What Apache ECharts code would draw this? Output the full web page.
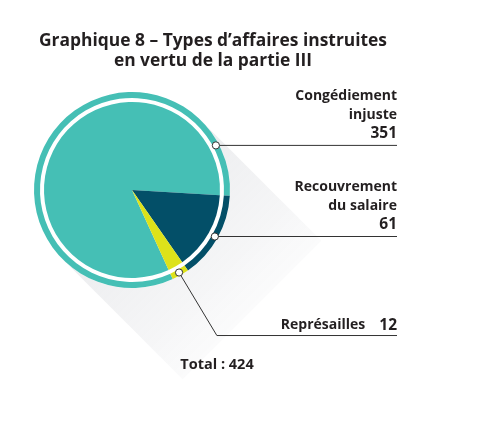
<!DOCTYPE html>
<html><head><meta charset="utf-8">
<script src="https://cdn.jsdelivr.net/npm/echarts@6/dist/echarts.min.js"></script>
<style>html,body{margin:0;padding:0;background:#fff}#c{width:477px;height:427px}</style>
</head><body><div id="c"></div>
<script>
const categories = ['Congédiement injuste', 'Recouvrement du salaire', 'Représailles'];
const labelLines = [['Congédiement', 'injuste'], ['Recouvrement', 'du salaire'], ['Représailles']];
const values = [351, 61, 12];
const colors = ['#45bfb5', '#034f68', '#dde21a'];

const CX = 132, CY = 190;
const R_IN = 88, R_RING0 = 92, R_RING1 = 98, R_DOT = 95;
const START = -65.4;
const TEXT_RIGHT = 397;
const FONT = 'Open Sans';

const total = values.reduce((a, b) => a + b, 0);
let acc = 0;
const midAngles = values.map(v => {
  const a0 = START - acc / total * 360;
  acc += v;
  const a1 = START - acc / total * 360;
  return (a0 + a1) / 2;
});
const anchorAngles = [28, midAngles[1], midAngles[2]];
const toXY = (deg, r) => [CX + r * Math.cos(deg * Math.PI / 180), CY - r * Math.sin(deg * Math.PI / 180)];
const anchors = anchorAngles.map(a => toXY(a, R_DOT));
const elbowDrop = [0, 0, 63];

const chart = echarts.init(document.getElementById('c'), null, {renderer: 'canvas'});
const data = categories.map((n, i) => ({name: n, value: values[i], itemStyle: {color: colors[i]}}));

const s = Math.SQRT1_2;
const t1 = [CX + R_RING1 * s, CY - R_RING1 * s];
const t2 = [CX - R_RING1 * s, CY + R_RING1 * s];
const L = 120;

chart.setOption({
  animation: false,
  title: [{
    text: 'Graphique 8 – Types d’affaires instruites\nen vertu de la partie III',
    left: 208, top: 26, textAlign: 'center',
    textStyle: {fontFamily: FONT, fontWeight: 700, fontSize: 17.4, color: '#231f20', lineHeight: 20}
  }, {
    text: 'Total : ' + total,
    left: 212, top: 352, textAlign: 'center',
    textStyle: {fontFamily: FONT, fontWeight: 700, fontSize: 14.5, color: '#231f20'}
  }],
  graphic: [
    {type: 'polygon', z: 0, silent: true,
      shape: {points: [t1, [t1[0] + L, t1[1] + L], [t2[0] + L, t2[1] + L], t2]},
      style: {fill: {type: 'linear', x: 0, y: 0, x2: 1, y2: 1, colorStops: [
        {offset: 0, color: 'rgba(120,125,140,0.20)'},
        {offset: 0.6, color: 'rgba(120,125,140,0.07)'},
        {offset: 1, color: 'rgba(255,255,255,0)'}]}}},
    {type: 'circle', z: 1, silent: true, shape: {cx: CX, cy: CY, r: R_RING1}, style: {fill: '#fff'}},
    ...anchors.map(p => ({type: 'circle', z: 100, silent: true,
      shape: {cx: p[0], cy: p[1], r: 3.6}, style: {fill: '#fff', stroke: '#333', lineWidth: 1}}))
  ],
  series: [{
    type: 'pie', z: 5, center: [CX, CY], radius: [0, R_IN], startAngle: START,
    label: {show: false}, labelLine: {show: false}, silent: true,
    data: data
  }, {
    type: 'pie', z: 6, center: [CX, CY], radius: [R_RING0, R_RING1], startAngle: START,
    silent: true, data: data, avoidLabelOverlap: false,
    label: {
      show: true, position: 'outside',
      formatter: p => {
        const lines = labelLines[p.dataIndex];
        if (lines.length === 1) return '{t|' + lines[0] + '}{v|' + p.value + '}';
        return lines.map(l => '{t|' + l + '}').join('\n') + '\n{v|' + p.value + '}';
      },
      rich: {
        t: {fontFamily: FONT, fontWeight: 700, fontSize: 14, color: '#231f20', lineHeight: 18.5, align: 'right'},
        v: {fontFamily: FONT, fontWeight: 700, fontSize: 15.5, color: '#231f20', lineHeight: 18.5, align: 'right', padding: [0, 0, 0, 14]}
      }
    },
    labelLine: {show: true, lineStyle: {color: '#333', width: 1}},
    labelLayout: params => {
      const i = params.dataIndex;
      const p0 = anchors[i];
      let pts;
      if (elbowDrop[i] > 0) {
        const e = [p0[0] + elbowDrop[i] * 0.6, p0[1] + elbowDrop[i]];
        pts = [p0, e, [TEXT_RIGHT, e[1]]];
      } else {
        pts = [p0, [p0[0] + 1, p0[1]], [TEXT_RIGHT, p0[1]]];
      }
      return {
        x: TEXT_RIGHT, y: pts[2][1] - (elbowDrop[i] > 0 ? 1 : 3),
        align: 'right', verticalAlign: 'bottom',
        hideOverlap: false, moveOverlap: null,
        labelLinePoints: pts
      };
    }
  }]
});
</script></body></html>
